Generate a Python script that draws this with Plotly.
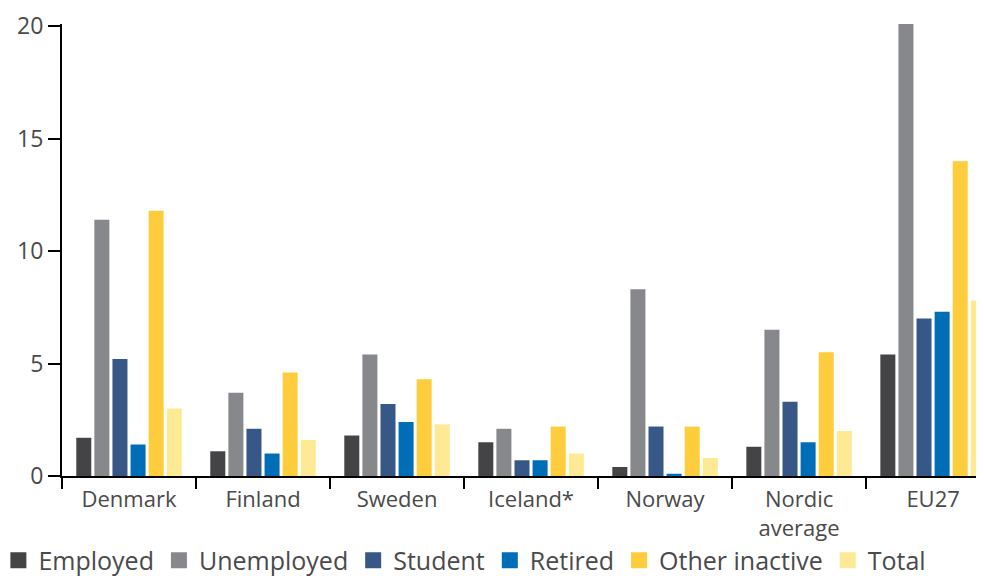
import plotly.graph_objects as go

categories = ["Denmark", "Finland", "Sweden", "Iceland*", "Norway", "Nordic<br>average", "EU27"]
employed = [1.7, 1.1, 1.8, 1.5, 0.4, 1.3, 5.4]
unemployed = [11.4, 3.7, 5.4, 2.1, 8.3, 6.5, 20.1]
student = [5.2, 2.1, 3.2, 0.7, 2.2, 3.3, 7.0]
retired = [1.4, 1.0, 2.4, 0.7, 0.1, 1.5, 7.3]
other_inactive = [11.8, 4.6, 4.3, 2.2, 2.2, 5.5, 14.0]
total = [3.0, 1.6, 2.3, 1.0, 0.8, 2.0, 7.8]

series = [
    ("Employed", employed, "#444446"),
    ("Unemployed", unemployed, "#87888c"),
    ("Student", student, "#375786"),
    ("Retired", retired, "#006eb6"),
    ("Other inactive", other_inactive, "#fdcd3d"),
    ("Total", total, "#fee995"),
]

FONT = "'Open Sans', 'Noto Sans', sans-serif"
TXT = "#4a4a4a"

fig = go.Figure()
for name, vals, col in series:
    fig.add_trace(go.Bar(x=categories, y=vals, name=name, marker_color=col,
                         marker_line_width=0, showlegend=False))
for name, vals, col in series:
    fig.add_trace(go.Scatter(x=[None], y=[None], mode="markers", name=name,
                             marker=dict(symbol="square", size=19, color=col)))

fig.update_layout(
    width=984, height=576,
    margin=dict(l=54, r=8, t=16, b=108, autoexpand=False),
    paper_bgcolor="white", plot_bgcolor="white",
    barmode="group", bargap=0.19, bargroupgap=0.17,
    font=dict(family=FONT, size=23, color=TXT),
    legend=dict(orientation="h", x=-0.069, xanchor="left", y=-0.187, yanchor="middle",
                font=dict(size=25, color=TXT), itemwidth=30, tracegroupgap=0,
                bgcolor="rgba(0,0,0,0)"),
    showlegend=True,
)
fig.update_xaxes(
    range=[-0.5, 6.38], showline=True, linecolor="black", linewidth=2,
    ticks="outside", tickson="boundaries", ticklen=11, tickwidth=2, tickcolor="black",
    showgrid=False, tickfont=dict(size=22, color=TXT), ticklabelstandoff=3,
)
fig.update_yaxes(
    range=[0, 20.1], tickvals=[0, 5, 10, 15, 20], showline=True, linecolor="black",
    linewidth=2, ticks="outside", ticklen=12, tickwidth=2, tickcolor="black",
    showgrid=False, zeroline=False, tickfont=dict(size=23, color=TXT),
)

fig.write_html("out.html")
